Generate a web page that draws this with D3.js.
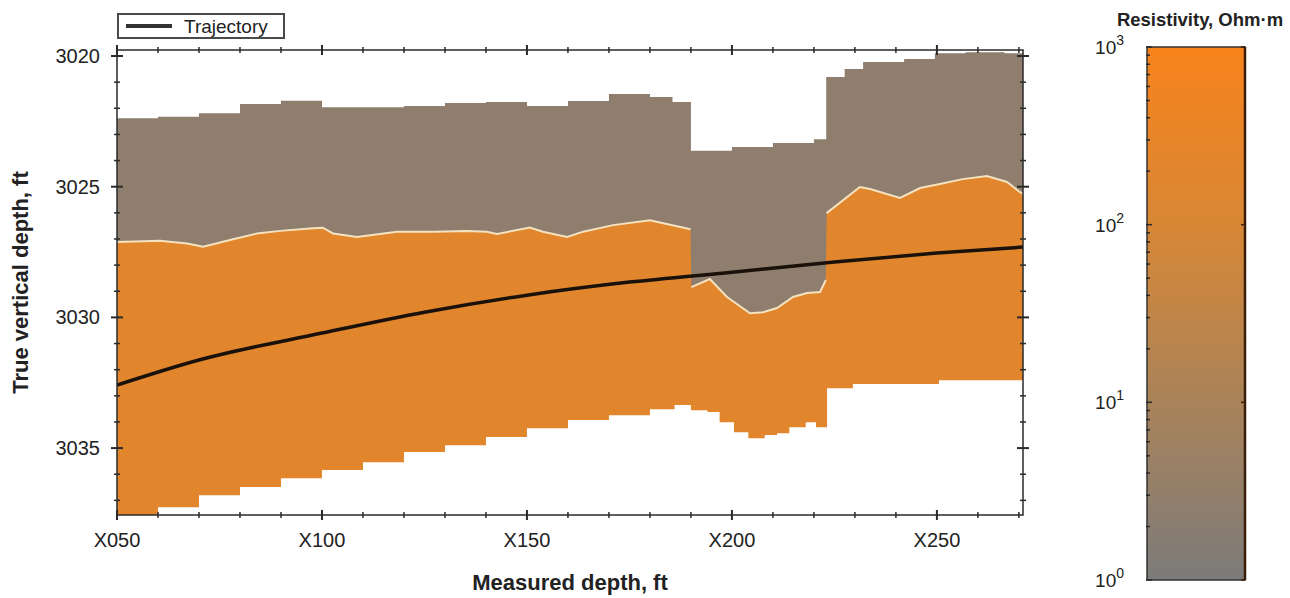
<!DOCTYPE html>
<html>
<head>
<meta charset="utf-8">
<script src="https://cdn.jsdelivr.net/npm/d3@7"></script>
<style>
  body { margin: 0; background: #fff; }
  svg text { font-family: "Liberation Sans", Arial, sans-serif; fill: #222; }
</style>
</head>
<body>
<svg id="svg-resistivity"></svg>
<script>
//*************** data ******************//

// upper limit of the inverted section (one value per column, step after)
var topMD  = [50, 60, 70, 80, 90, 100, 110, 120, 130, 140, 150, 160, 170, 180, 185.5,
              190, 200, 210, 220, 223, 227.5, 232, 242, 249.5, 257, 266.5, 271];
var topTVD = [3022.38, 3022.32, 3022.19, 3021.84, 3021.71, 3021.96, 3021.96, 3021.91, 3021.80, 3021.76,
              3021.91, 3021.72, 3021.45, 3021.57, 3021.76,
              3023.62, 3023.48, 3023.33, 3023.18, 3020.80, 3020.50, 3020.23, 3020.11, 3019.89, 3019.86, 3019.89, 3019.89];

// boundary between conductive (upper) and resistive (lower) layer
var ifaceMD  = [50, 60.5, 67.1, 71.0, 78.3, 84.1, 89.8, 97.8, 100.2, 102.7, 108.5, 118.3, 127.1, 135.4,
                140.2, 142.7, 150.7, 153.9, 159.8, 163.7, 171.0, 180.0, 184.1, 189.9,
                190.1, 194.6, 198.8, 204.4, 207.6, 211.0, 214.9, 218.3, 221.5, 222.9,
                223.1, 231.2, 233.7, 241.0, 245.9, 250.7, 256.3, 262.2, 267.1, 270.2, 271];
var ifaceTVD = [3027.12, 3027.07, 3027.17, 3027.30, 3027.01, 3026.79, 3026.69, 3026.59, 3026.57, 3026.79,
                3026.92, 3026.72, 3026.72, 3026.69, 3026.72, 3026.81, 3026.56, 3026.72, 3026.92, 3026.72,
                3026.47, 3026.28, 3026.43, 3026.63,
                3028.84, 3028.53, 3029.22, 3029.84, 3029.80, 3029.64, 3029.22, 3029.07, 3029.03, 3028.57,
                3026.01, 3025.01, 3025.09, 3025.43, 3025.05, 3024.90, 3024.71, 3024.59, 3024.82, 3025.20, 3025.28];
var ifaceBreaks = [190, 223];

// lower limit of the inverted section (step after)
var botMD  = [50, 60, 70, 80, 90, 100, 110, 120, 130, 140, 150, 160, 170, 180, 186,
              190, 194, 197, 200.5, 204, 208, 211, 214, 218, 220.5, 223.2, 229.5, 250.5, 271];
var botTVD = [3037.9, 3037.26, 3036.80, 3036.49, 3036.15, 3035.84, 3035.54, 3035.15, 3034.89, 3034.58,
              3034.24, 3033.93, 3033.74, 3033.51, 3033.35,
              3033.55, 3033.62, 3034.01, 3034.39, 3034.62, 3034.50, 3034.43, 3034.20, 3034.01, 3034.20,
              3032.71, 3032.55, 3032.40, 3032.40];

// well trajectory
var trajMD  = [50, 70, 100, 125, 150, 175, 200, 225, 250, 271];
var trajTVD = [3032.59, 3031.63, 3030.60, 3029.80, 3029.15, 3028.65, 3028.27, 3027.88, 3027.54, 3027.31];

// layer resistivities, Ohm.m
var upperRes = 2.6;
var lowerRes = 210;

// axes
var xTicks = [50, 100, 150, 200, 250];
var yTicks = [3020, 3025, 3030, 3035];
var resStops  = [1, 10, 100, 1000];
var resColors = ["#7c7b7a", "#a9835a", "#d88735", "#f8831c"];


//*************** initialise canvas ******************//

var svg = d3.select("svg#svg-resistivity")
  .attr("width", 1290)
  .attr("height", 598);

var plot = {left: 117, right: 1023, top: 50, bottom: 515};

var xScale = d3.scaleLinear().domain([50, 271]).range([plot.left, plot.right]),
    yScale = d3.scaleLinear().domain([3019.77, 3037.56]).range([plot.top, plot.bottom]);

var colorScale = d3.scaleLog().domain(resStops).range(resColors);

svg.append("clipPath")
  .attr("id", "clip-plot")
  .append("rect")
  .attr("x", plot.left).attr("y", plot.top)
  .attr("width", plot.right - plot.left)
  .attr("height", plot.bottom - plot.top);

var layers = svg.append("g").attr("clip-path", "url(#clip-plot)");

function zipPts(a, b) { return a.map(function(v, i) { return {md: v, tvd: b[i]}; }); }

//--------------- layers
// upper conductive layer, from top of section down
layers.append("path")
  .datum(zipPts(topMD, topTVD))
  .attr("fill", colorScale(upperRes))
  .attr("d", d3.area()
    .x(function(d) { return xScale(d.md); })
    .y0(function(d) { return yScale(d.tvd); })
    .y1(plot.bottom + 5)
    .curve(d3.curveStepAfter));

// lower resistive layer, from interface down
layers.append("path")
  .datum(zipPts(ifaceMD, ifaceTVD))
  .attr("fill", colorScale(lowerRes))
  .attr("d", d3.area()
    .x(function(d) { return xScale(d.md); })
    .y0(function(d) { return yScale(d.tvd); })
    .y1(plot.bottom + 5));

// no data below the section
layers.append("path")
  .datum(zipPts(botMD, botTVD))
  .attr("fill", "#ffffff")
  .attr("d", d3.area()
    .x(function(d) { return xScale(d.md); })
    .y0(function(d) { return yScale(d.tvd); })
    .y1(plot.bottom + 5)
    .curve(d3.curveStepAfter));

// interface line, split where the section jumps
var ifacePts = zipPts(ifaceMD, ifaceTVD);
var segs = [[], [], []];
ifacePts.forEach(function(d) {
  var k = d.md < ifaceBreaks[0] ? 0 : (d.md < ifaceBreaks[1] ? 1 : 2);
  segs[k].push(d);
});
var ifaceLine = d3.line()
  .x(function(d) { return xScale(d.md); })
  .y(function(d) { return yScale(d.tvd); });
layers.selectAll("path.iface")
  .data(segs)
  .enter().append("path")
  .attr("class", "iface")
  .attr("fill", "none")
  .attr("stroke", "#f4e2c0")
  .attr("stroke-width", 2)
  .attr("d", ifaceLine);

// trajectory
layers.append("path")
  .datum(zipPts(trajMD, trajTVD))
  .attr("fill", "none")
  .attr("stroke", "#1b110b")
  .attr("stroke-width", 3.5)
  .attr("d", d3.line()
    .x(function(d) { return xScale(d.md); })
    .y(function(d) { return yScale(d.tvd); })
    .curve(d3.curveMonotoneX));


//*************** axes ******************//

var axisColor = "#2a2a2a";

// frame
svg.append("rect")
  .attr("x", plot.left).attr("y", plot.top)
  .attr("width", plot.right - plot.left)
  .attr("height", plot.bottom - plot.top)
  .attr("fill", "none")
  .attr("stroke", axisColor)
  .attr("stroke-width", 1.5);

var xMinor = d3.range(60, 271, 10).filter(function(v) { return v % 50 !== 0; });
var yMinor = d3.range(3020, 3038, 1).filter(function(v) { return v % 5 !== 0; });

var ticks = svg.append("g").attr("stroke", axisColor);

// x ticks on bottom and top edges
[plot.bottom, plot.top].forEach(function(yy) {
  ticks.selectAll(null)
    .data(xTicks.concat(xMinor))
    .enter().append("line")
    .attr("x1", function(d) { return xScale(d); })
    .attr("x2", function(d) { return xScale(d); })
    .attr("y1", function(d) { return yy - (d % 50 === 0 ? 5 : 3); })
    .attr("y2", function(d) { return yy + (d % 50 === 0 ? 5 : 3); })
    .attr("stroke-width", function(d) { return d % 50 === 0 ? 2 : 1.5; });
});

// y ticks on left and right edges
[plot.left, plot.right].forEach(function(xx) {
  ticks.selectAll(null)
    .data(yTicks.concat(yMinor))
    .enter().append("line")
    .attr("y1", function(d) { return yScale(d); })
    .attr("y2", function(d) { return yScale(d); })
    .attr("x1", function(d) { return xx - (d % 5 === 0 ? 6 : 3); })
    .attr("x2", function(d) { return xx + (d % 5 === 0 ? 6 : 3); })
    .attr("stroke-width", function(d) { return d % 5 === 0 ? 2 : 1.5; });
});

// tick labels
svg.append("g").selectAll("text")
  .data(xTicks)
  .enter().append("text")
  .attr("x", function(d) { return xScale(d); })
  .attr("y", 547)
  .attr("text-anchor", "middle")
  .attr("font-size", "20px")
  .text(function(d) { return "X" + d3.format("03d")(d); });

svg.append("g").selectAll("text")
  .data(yTicks)
  .enter().append("text")
  .attr("x", 100)
  .attr("y", function(d) { return yScale(d) + 7; })
  .attr("text-anchor", "end")
  .attr("font-size", "20px")
  .text(function(d) { return d; });

// axis labels
svg.append("text")
  .attr("x", (plot.left + plot.right) / 2)
  .attr("y", 590)
  .attr("text-anchor", "middle")
  .attr("font-size", "22px")
  .attr("font-weight", "bold")
  .text("Measured depth, ft");

svg.append("text")
  .attr("transform", "translate(28," + ((plot.top + plot.bottom) / 2) + ") rotate(-90)")
  .attr("text-anchor", "middle")
  .attr("font-size", "22px")
  .attr("font-weight", "bold")
  .text("True vertical depth, ft");


//*************** legend ******************//

var legend = svg.append("g").attr("class", "legend");
legend.append("rect")
  .attr("x", 118).attr("y", 14)
  .attr("width", 166).attr("height", 24)
  .attr("fill", "#fff")
  .attr("stroke", "#4a4a4a")
  .attr("stroke-width", 2);
legend.append("line")
  .attr("x1", 126).attr("x2", 172)
  .attr("y1", 26).attr("y2", 26)
  .attr("stroke", "#333")
  .attr("stroke-width", 4);
legend.append("text")
  .attr("x", 184).attr("y", 33)
  .attr("font-size", "19px")
  .text("Trajectory");


//*************** colour bar ******************//

var cb = {left: 1147, right: 1245, top: 47, bottom: 580};
var cbScale = d3.scaleLog().domain([1, 1000]).range([cb.bottom, cb.top]);

var grad = svg.append("defs").append("linearGradient")
  .attr("id", "res-grad")
  .attr("x1", 0).attr("y1", 1).attr("x2", 0).attr("y2", 0);
grad.selectAll("stop")
  .data(resStops)
  .enter().append("stop")
  .attr("offset", function(d) { return (cb.bottom - cbScale(d)) / (cb.bottom - cb.top); })
  .attr("stop-color", function(d) { return colorScale(d); });

svg.append("rect")
  .attr("x", cb.left).attr("y", cb.top)
  .attr("width", cb.right - cb.left)
  .attr("height", cb.bottom - cb.top)
  .attr("fill", "url(#res-grad)")
  .attr("stroke", "#333")
  .attr("stroke-width", 1.5);

svg.append("line")
  .attr("x1", cb.right).attr("x2", cb.right)
  .attr("y1", cb.top).attr("y2", cb.bottom)
  .attr("stroke", "#3a1e08")
  .attr("stroke-width", 2.5);

var cbTicks = cbScale.ticks();
svg.append("g").selectAll("line")
  .data(cbTicks)
  .enter().append("line")
  .attr("x1", cb.left - 1)
  .attr("x2", function(d) { return cb.left + (resStops.indexOf(d) >= 0 ? 5 : 3); })
  .attr("y1", function(d) { return cbScale(d); })
  .attr("y2", function(d) { return cbScale(d); })
  .attr("stroke", "#2a2a2a")
  .attr("stroke-width", 1.5);

svg.append("g").selectAll("line")
  .data(resStops)
  .enter().append("line")
  .attr("x1", cb.right - 4)
  .attr("x2", cb.right)
  .attr("y1", function(d) { return cbScale(d); })
  .attr("y2", function(d) { return cbScale(d); })
  .attr("stroke", "#3a1e08")
  .attr("stroke-width", 1.5);

var cbLabels = svg.append("g").selectAll("text")
  .data(resStops)
  .enter().append("text")
  .attr("x", 1124)
  .attr("y", function(d) { return cbScale(d) + 7; })
  .attr("text-anchor", "end")
  .attr("font-size", "19px");
cbLabels.append("tspan").text("10");
cbLabels.append("tspan")
  .attr("dy", -9)
  .attr("font-size", "14px")
  .text(function(d) { return Math.round(Math.log10(d)); });

svg.append("text")
  .attr("x", 1200)
  .attr("y", 26)
  .attr("text-anchor", "middle")
  .attr("font-size", "18.5px")
  .attr("font-weight", "bold")
  .text("Resistivity, Ohm\u00b7m");
</script>
</body>
</html>
